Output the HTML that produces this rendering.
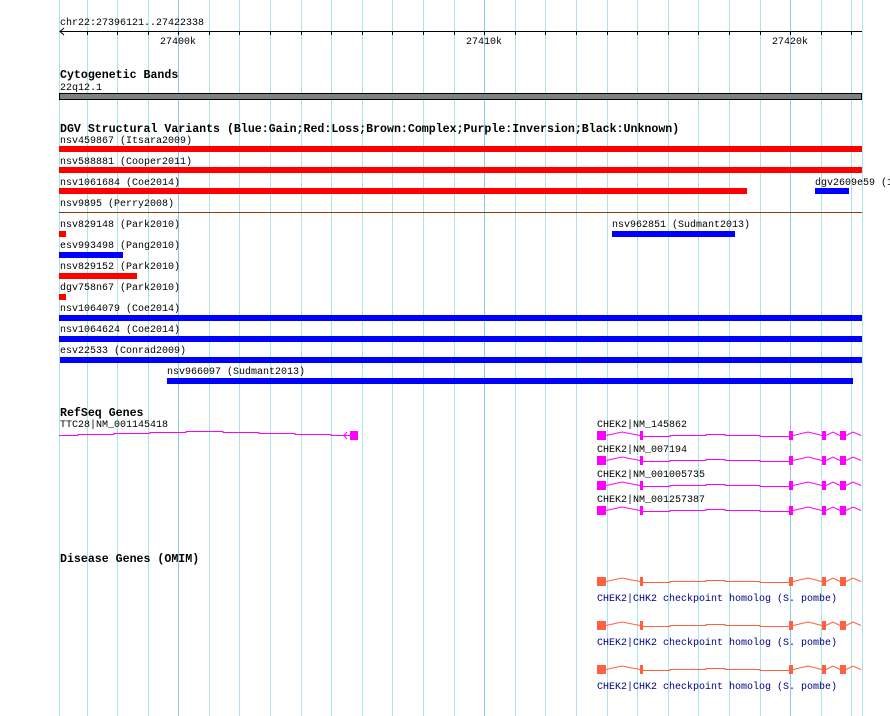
<!DOCTYPE html>
<html><head><meta charset="utf-8"><style>
body{margin:0;background:#fff}
svg{display:block}
text{font-family:"Liberation Mono","DejaVu Sans Mono",monospace;font-size:10px;fill:#000}
.b{font-weight:bold;font-size:11.6px}
.n{fill:#000080}
</style></head><body>
<svg width="890" height="716" xmlns="http://www.w3.org/2000/svg">
<g stroke="#a8e4ea" stroke-width="1">
<line x1="59.5" y1="0" x2="59.5" y2="716"/>
<line x1="87.5" y1="0" x2="87.5" y2="716"/>
<line x1="117.5" y1="0" x2="117.5" y2="716"/>
<line x1="148.5" y1="0" x2="148.5" y2="716"/>
<line x1="209.5" y1="0" x2="209.5" y2="716"/>
<line x1="239.5" y1="0" x2="239.5" y2="716"/>
<line x1="270.5" y1="0" x2="270.5" y2="716"/>
<line x1="301.5" y1="0" x2="301.5" y2="716"/>
<line x1="331.5" y1="0" x2="331.5" y2="716"/>
<line x1="362.5" y1="0" x2="362.5" y2="716"/>
<line x1="392.5" y1="0" x2="392.5" y2="716"/>
<line x1="423.5" y1="0" x2="423.5" y2="716"/>
<line x1="454.5" y1="0" x2="454.5" y2="716"/>
<line x1="515.5" y1="0" x2="515.5" y2="716"/>
<line x1="545.5" y1="0" x2="545.5" y2="716"/>
<line x1="576.5" y1="0" x2="576.5" y2="716"/>
<line x1="607.5" y1="0" x2="607.5" y2="716"/>
<line x1="637.5" y1="0" x2="637.5" y2="716"/>
<line x1="668.5" y1="0" x2="668.5" y2="716"/>
<line x1="698.5" y1="0" x2="698.5" y2="716"/>
<line x1="729.5" y1="0" x2="729.5" y2="716"/>
<line x1="760.5" y1="0" x2="760.5" y2="716"/>
<line x1="821.5" y1="0" x2="821.5" y2="716"/>
<line x1="851.5" y1="0" x2="851.5" y2="716"/>
<line x1="862.5" y1="0" x2="862.5" y2="716"/>
</g>
<g stroke="#88c8e8" stroke-width="1">
<line x1="178.5" y1="0" x2="178.5" y2="716"/>
<line x1="484.5" y1="0" x2="484.5" y2="716"/>
<line x1="790.5" y1="0" x2="790.5" y2="716"/>
</g>
<text x="60" y="25">chr22:27396121..27422338</text>
<g stroke="#000" stroke-width="1">
<line x1="60" y1="31.5" x2="862" y2="31.5"/>
<polyline points="64,28 60,31.5 64,35" fill="none"/>
<line x1="87.5" y1="31" x2="87.5" y2="35"/><line x1="117.5" y1="31" x2="117.5" y2="35"/><line x1="148.5" y1="31" x2="148.5" y2="35"/><line x1="178.5" y1="31" x2="178.5" y2="35"/><line x1="209.5" y1="31" x2="209.5" y2="35"/><line x1="239.5" y1="31" x2="239.5" y2="35"/><line x1="270.5" y1="31" x2="270.5" y2="35"/><line x1="301.5" y1="31" x2="301.5" y2="35"/><line x1="331.5" y1="31" x2="331.5" y2="35"/><line x1="362.5" y1="31" x2="362.5" y2="35"/><line x1="392.5" y1="31" x2="392.5" y2="35"/><line x1="423.5" y1="31" x2="423.5" y2="35"/><line x1="454.5" y1="31" x2="454.5" y2="35"/><line x1="484.5" y1="31" x2="484.5" y2="35"/><line x1="515.5" y1="31" x2="515.5" y2="35"/><line x1="545.5" y1="31" x2="545.5" y2="35"/><line x1="576.5" y1="31" x2="576.5" y2="35"/><line x1="607.5" y1="31" x2="607.5" y2="35"/><line x1="637.5" y1="31" x2="637.5" y2="35"/><line x1="668.5" y1="31" x2="668.5" y2="35"/><line x1="698.5" y1="31" x2="698.5" y2="35"/><line x1="729.5" y1="31" x2="729.5" y2="35"/><line x1="760.5" y1="31" x2="760.5" y2="35"/><line x1="790.5" y1="31" x2="790.5" y2="35"/><line x1="821.5" y1="31" x2="821.5" y2="35"/><line x1="851.5" y1="31" x2="851.5" y2="35"/>
</g>
<text x="178" y="44" text-anchor="middle">27400k</text>
<text x="484" y="44" text-anchor="middle">27410k</text>
<text x="790" y="44" text-anchor="middle">27420k</text>

<text class="b" x="60" y="78">Cytogenetic Bands</text>
<text x="60" y="90">22q12.1</text>
<rect x="59.5" y="93.5" width="802" height="6" fill="#808080" stroke="#000"/>

<text class="b" x="60" y="132">DGV Structural Variants (Blue:Gain;Red:Loss;Brown:Complex;Purple:Inversion;Black:Unknown)</text>
<text x="60" y="143">nsv459867 (Itsara2009)</text>
<rect x="59" y="146" width="803" height="6" fill="#f00"/>
<text x="60" y="164">nsv588881 (Cooper2011)</text>
<rect x="59" y="167" width="803" height="6" fill="#f00"/>
<text x="60" y="185">nsv1061684 (Coe2014)</text>
<rect x="59" y="188" width="688" height="6" fill="#f00"/>
<text x="815" y="185">dgv2609e59 (1</text>
<rect x="815" y="188" width="34" height="6" fill="#00f"/>
<text x="60" y="206">nsv9895 (Perry2008)</text>
<rect x="59" y="212" width="803" height="1" fill="#8b3a0a"/>
<text x="60" y="227">nsv829148 (Park2010)</text>
<rect x="59" y="231" width="7" height="6" fill="#f00"/>
<text x="612" y="227">nsv962851 (Sudmant2013)</text>
<rect x="612" y="231" width="123" height="6" fill="#00f"/>
<text x="60" y="248">esv993498 (Pang2010)</text>
<rect x="59" y="252" width="64" height="6" fill="#00f"/>
<text x="60" y="269">nsv829152 (Park2010)</text>
<rect x="59" y="273" width="78" height="6" fill="#f00"/>
<text x="60" y="290">dgv758n67 (Park2010)</text>
<rect x="59" y="294" width="7" height="6" fill="#f00"/>
<text x="60" y="311">nsv1064079 (Coe2014)</text>
<rect x="59" y="315" width="803" height="6" fill="#00f"/>
<text x="60" y="332">nsv1064624 (Coe2014)</text>
<rect x="59" y="336" width="803" height="6" fill="#00f"/>
<text x="60" y="353">esv22533 (Conrad2009)</text>
<rect x="60" y="357" width="802" height="6" fill="#00f"/>
<text x="167" y="374">nsv966097 (Sudmant2013)</text>
<rect x="167" y="378" width="686" height="6" fill="#00f"/>

<text class="b" x="60" y="416">RefSeq Genes</text>
<text x="60" y="427">TTC28|NM_001145418</text>
<polyline fill="none" stroke="#f0f" points="59,435.5 78,435.5 78,434.5 114,434.5 114,433.5 150,433.5 150,432.5 186,432.5 186,431.5 223,431.5 223,432.5 259,432.5 259,433.5 295,433.5 295,434.5 331,434.5 331,435.5 350,435.5"/>
<polyline fill="none" stroke="#f0f" points="347,432 344,435.5 347,439"/>
<rect x="350" y="431" width="8" height="9" fill="#f0f"/>

<g id="g1">
<polyline fill="none" stroke="#f0f" points="606,435.5 622,432 640,435.5 M0,0"/>
<polyline fill="none" stroke="#f0f" points="643,436.5 670,436.5 670,435.5 706,435.5 706,434.5 725,434.5 725,435.5 760,435.5 760,436.5 789,436.5"/>
<polyline fill="none" stroke="#f0f" points="793,435.5 808,432 822,435.5"/>
<polyline fill="none" stroke="#f0f" points="826,435.5 833,432 840,435.5"/>
<polyline fill="none" stroke="#f0f" points="846,435.5 853,432 861,435.5"/>
<rect x="597" y="431" width="9" height="9" fill="#f0f"/>
<rect x="640" y="431" width="3" height="9" fill="#f0f"/>
<rect x="789" y="431" width="4" height="9" fill="#f0f"/>
<rect x="822" y="431" width="4" height="9" fill="#f0f"/>
<rect x="840" y="431" width="6" height="9" fill="#f0f"/>
</g>
<text x="597" y="427">CHEK2|NM_145862</text>
<use href="#g1" y="25"/>
<text x="597" y="452">CHEK2|NM_007194</text>
<use href="#g1" y="50"/>
<text x="597" y="477">CHEK2|NM_001005735</text>
<use href="#g1" y="75"/>
<text x="597" y="502">CHEK2|NM_001257387</text>

<text class="b" x="60" y="562">Disease Genes (OMIM)</text>
<g id="o1">
<polyline fill="none" stroke="#ff6040" points="606,581.5 622,578 640,581.5"/>
<polyline fill="none" stroke="#ff6040" points="643,582.5 670,582.5 670,581.5 706,581.5 706,580.5 725,580.5 725,581.5 760,581.5 760,582.5 789,582.5"/>
<polyline fill="none" stroke="#ff6040" points="793,581.5 808,578 822,581.5"/>
<polyline fill="none" stroke="#ff6040" points="826,581.5 833,578 840,581.5"/>
<polyline fill="none" stroke="#ff6040" points="846,581.5 853,578 861,581.5"/>
<rect x="597" y="577" width="9" height="9" fill="#ff6040"/>
<rect x="640" y="577" width="3" height="9" fill="#ff6040"/>
<rect x="789" y="577" width="4" height="9" fill="#ff6040"/>
<rect x="822" y="577" width="4" height="9" fill="#ff6040"/>
<rect x="840" y="577" width="6" height="9" fill="#ff6040"/>
<text class="n" x="597" y="601">CHEK2|CHK2 checkpoint homolog (S. pombe)</text>
</g>
<use href="#o1" y="44"/>
<use href="#o1" y="88"/>
</svg>
</body></html>
